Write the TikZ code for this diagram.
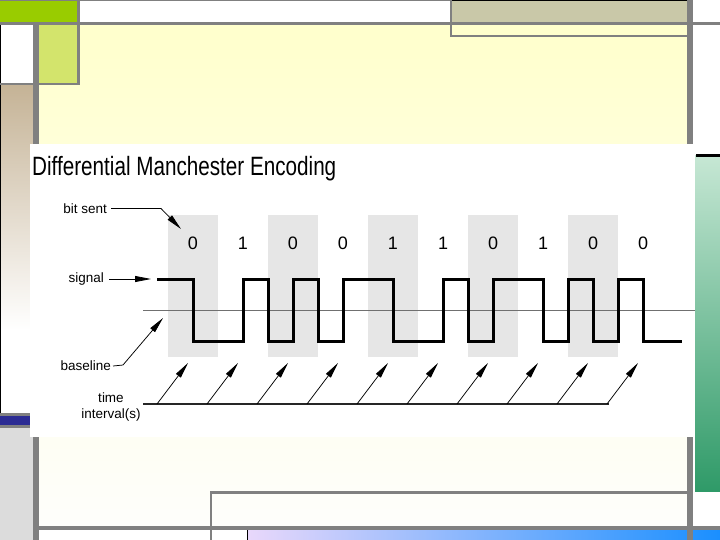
\documentclass[tikz,border=0pt]{standalone}
\usepackage{fontspec}
\setmainfont{Liberation Sans}
\usetikzlibrary{arrows.meta}
\definecolor{topgreen}{HTML}{99CC00}
\definecolor{lightgreen}{HTML}{D3E46C}
\definecolor{cream}{HTML}{FFFFCC}
\definecolor{creammid}{HTML}{FFFFE6}
\definecolor{creamlow}{HTML}{FEFEFB}
\definecolor{olive}{HTML}{C9C8A8}
\definecolor{tan}{HTML}{C5B396}
\definecolor{bluebar}{HTML}{2B2B93}
\definecolor{lgray}{HTML}{DCDCDC}
\definecolor{frame}{HTML}{808080}
\definecolor{bitshade}{HTML}{E6E6E6}
\definecolor{gtop}{HTML}{C6E7D4}
\definecolor{gbot}{HTML}{2F9A68}
\definecolor{lav}{HTML}{E9D8FB}
\definecolor{skyblue}{HTML}{1A8FFF}
\definecolor{baseln}{HTML}{707070}
\begin{document}
\begin{tikzpicture}[x=1pt,y=-1pt,
  lbl/.style={font=\fontsize{13.5}{15}\selectfont, inner sep=0pt},
  digit/.style={font=\fontsize{18}{20}\selectfont, inner sep=0pt},
  arr/.style={-{Triangle[length=16pt,width=6pt]}, line width=0.75pt, black},
  sig/.style={line width=3pt, black, line join=miter},
  bitbox/.style={fill=bitshade, draw=none}]
\useasboundingbox (0,0) rectangle (720,540);
% ---------- slide background ----------
\fill[white] (0,0) rectangle (720,540);
\shade[top color=cream, bottom color=creamlow, middle color=creammid] (39,25) rectangle (687,526);
\fill[topgreen] (0,0) rectangle (77,22);
\fill[lightgreen] (39,25) rectangle (77,83);
\fill[white] (0,25) rectangle (33,83);
\shade[top color=tan, bottom color=white] (0,85) rectangle (33,330);
\fill[bluebar] (0,416) rectangle (33,425);
\fill[lgray] (0,428) rectangle (33,540);
\fill[olive] (452,0) rectangle (687,22);
\fill[white] (692,25) rectangle (720,540);
\shade[top color=gtop, bottom color=gbot] (695,156) rectangle (720,491);
\fill[black] (696,154.5) rectangle (720,157);
\fill[white] (39,530) rectangle (720,540);
\shade[left color=lav, right color=skyblue] (247,530) rectangle (720,540);
\draw[black, line width=0.8pt] (247,530) -- (247,540);
\draw[black, line width=1pt] (0.5,25) -- (0.5,413);
% frame lines
\fill[frame] (0,0) rectangle (450,1.5);
\fill[black] (450,0) rectangle (692,1.2);
\fill[frame] (0,22) rectangle (720,25);
\fill[frame] (33,25) rectangle (39,540);
\fill[frame] (77,0) rectangle (79.5,85.5);
\fill[frame] (0,83) rectangle (79.5,85.5);
\fill[frame] (449.5,0) rectangle (452,37.5);
\fill[frame] (449.5,35) rectangle (692,37.5);
\fill[frame] (687,0) rectangle (692.5,540);
\fill[frame] (209.5,491) rectangle (212,540);
\fill[frame] (209.5,491) rectangle (692,493.5);
\fill[frame] (33,525.5) rectangle (720,530);
\fill[frame] (0,413) rectangle (33,416);
\fill[frame] (0,425) rectangle (33,428);
% ---------- diagram image ----------
\fill[white] (30,144) rectangle (695,437);
\node[anchor=base west, inner sep=0pt] (title) at (32,176)
  {\scalebox{0.78}[1]{\fontsize{26.5}{30}\selectfont Differential Manchester Encoding}};
% shaded bit boxes
\foreach \i in {0,2,4,6,8}
  \fill[bitbox] (168+50*\i,215) rectangle (218+50*\i,357);
% bit digits
\foreach \b [count=\k from 0] in {0,1,0,0,1,1,0,1,0,0}
  \node[digit] (d\k) at (193+50*\k,243) {\b};
% baseline
\coordinate (bl0) at (143,310);
\coordinate (bl1) at (695,310);
\draw[baseln, line width=0.9pt] (bl0) -- (bl1);
% signal
\draw[sig] (157,279) -| (193,341) -| (243,279) -| (268,341) -| (293,279)
  -| (318,341) -| (343,279) -| (393,341) -| (443,279) -| (468,341)
  -| (493,279) -| (543,341) -| (568,279) -| (593,341) -| (618,279)
  -| (643,341) -- (682,341);
% labels
\node[lbl, anchor=east] (bitsent) at (107,208.5) {bit sent};
\node[lbl, anchor=east] (signal) at (104,279) {signal};
\node[lbl, anchor=east] (baseline) at (111,366) {baseline};
\node[lbl] (time) at (111,398) {time};
\node[lbl] (interval) at (111,415) {interval(s)};
% label connectors
\coordinate (bsk) at (161,208.5);
\coordinate (bstip) at (181,229);
\draw[arr] (bitsent.east) ++(4,0) -- (bsk) -- (bstip);
\coordinate (sgtip) at (151,279);
\draw[arr] ([xshift=5pt]signal.east) -- (sgtip);
\coordinate (blk) at (123,365);
\coordinate (bltip) at (163,318);
\draw[arr] ([xshift=2pt]baseline.east) -- (blk) -- (bltip);
% time axis and interval arrows
\coordinate (ta0) at (143,404);
\coordinate (ta1) at (609,404);
\draw[line width=1.1pt, black!85] (ta0) -- (ta1);
\foreach \i in {0,...,9} {
  \coordinate (ts\i) at (157+50*\i,404);
  \coordinate (tt\i) at (188+50*\i,363);
  \draw[arr] (ts\i) -- (tt\i);
}
\end{tikzpicture}
\end{document}
